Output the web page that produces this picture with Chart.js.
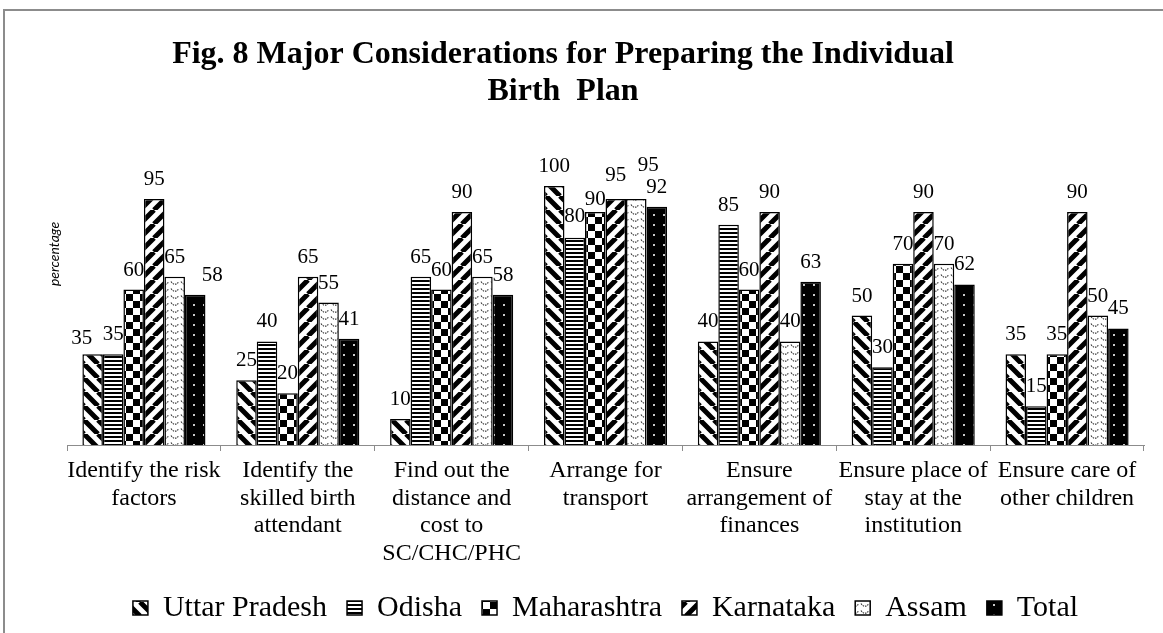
<!DOCTYPE html>
<html>
<head>
<meta charset="utf-8">
<title>Fig. 8 Major Considerations for Preparing the Individual Birth Plan</title>
<script src="https://cdn.jsdelivr.net/npm/chart.js@4.4.1/dist/chart.umd.min.js"></script>
<style>
  html, body { margin: 0; padding: 0; background: #fff; }
  #chart { display: block; }
</style>
</head>
<body>
<canvas id="chart" width="1163" height="633"></canvas>
<script>
// Categories (x axis), one multi-line label each
const categories = [
  ['Identify the risk', 'factors'],
  ['Identify the', 'skilled birth', 'attendant'],
  ['Find out the', 'distance and', 'cost to', 'SC/CHC/PHC'],
  ['Arrange for', 'transport'],
  ['Ensure', 'arrangement of', 'finances'],
  ['Ensure place of', 'stay at the', 'institution'],
  ['Ensure care of', 'other children']
];

const seriesNames = ['Uttar Pradesh', 'Odisha', 'Maharashtra', 'Karnataka', 'Assam', 'Total'];

// percentage values per state
const uttarPradesh = [35, 25, 10, 100, 40, 50, 35];
const odisha       = [35, 40, 65, 80, 85, 30, 15];
const maharashtra  = [60, 20, 60, 90, 60, 70, 35];
const karnataka    = [95, 65, 90, 95, 90, 90, 90];
const assam        = [65, 55, 65, 95, 40, 70, 50];
const total        = [58, 41, 58, 92, 63, 62, 45];

const titleLines = ['Fig. 8 Major Considerations for Preparing the Individual', 'Birth  Plan'];
const yTitle = 'percentage';

// a few value labels were moved by hand in the original ("series,category": [dx, dy])
const labelNudge = {
  '0,0': [-11, 4],
  '5,0': [17, 0],
  '1,3': [0, -2],
  '2,3': [0, 7],
  '3,3': [0, -4],
  '4,3': [12, -14]
};

const SERIF = '"Liberation Serif", "Times New Roman", serif';

// --- hatch patterns (black & white like the original) ---
function makePattern(kind) {
  const c = document.createElement('canvas');
  const g = c.getContext('2d');
  let s = 14;
  if (kind === 'horiz') s = 4;
  if (kind === 'wave') s = 10;
  if (kind === 'dots') s = 10;
  c.width = s;
  c.height = kind === 'wave' ? 7 : s;
  g.fillStyle = '#fff';
  g.fillRect(0, 0, c.width, c.height);
  g.strokeStyle = '#000';
  g.fillStyle = '#000';

  if (kind === 'down' || kind === 'up') {
    g.lineWidth = 5;
    g.beginPath();
    for (let k = -1; k <= 1; k++) {
      if (kind === 'down') { g.moveTo(k * s, 0); g.lineTo(k * s + s, s); }
      else { g.moveTo(k * s, s); g.lineTo(k * s + s, 0); }
    }
    g.stroke();
  } else if (kind === 'horiz') {
    g.fillRect(0, 0, s, 2);
  } else if (kind === 'check') {
    g.fillRect(0, 0, 7, 7);
    g.fillRect(7, 7, 7, 7);
  } else if (kind === 'wave') {
    g.strokeStyle = '#333';
    g.lineWidth = 1.2;
    g.setLineDash([1.5, 1]);
    g.beginPath();
    g.moveTo(1, 1.5);
    g.quadraticCurveTo(5, 7, 9, 1.5);
    g.stroke();
  } else if (kind === 'dots') {
    g.fillRect(0, 0, s, s);
    g.fillStyle = '#c8c8c8';
    g.fillRect(3, 4, 2, 2);
  }
  return g.createPattern(c, 'repeat');
}

const fills = [
  makePattern('down'),
  makePattern('horiz'),
  makePattern('check'),
  makePattern('up'),
  makePattern('wave'),
  makePattern('dots')
];

const values = [uttarPradesh, odisha, maharashtra, karnataka, assam, total];

const datasets = seriesNames.map((name, i) => ({
  label: name,
  data: values[i],
  backgroundColor: fills[i],
  borderColor: '#000',
  borderWidth: 1.5,
  categoryPercentage: 0.8,
  barPercentage: 1.0
}));

// frame, title, y-title and value labels
const decor = {
  id: 'decor',
  beforeDraw(chart) {
    const ctx = chart.ctx;
    ctx.save();
    ctx.fillStyle = '#fff';
    ctx.fillRect(0, 0, chart.width, chart.height);
    ctx.strokeStyle = '#8c8c8c';
    ctx.lineWidth = 2;
    ctx.beginPath();
    ctx.moveTo(4, chart.height);
    ctx.lineTo(4, 10);
    ctx.lineTo(chart.width, 10);
    ctx.stroke();
    ctx.restore();
  },
  afterDatasetsDraw(chart) {
    const ctx = chart.ctx;
    ctx.save();
    ctx.fillStyle = '#000';
    ctx.textAlign = 'center';
    ctx.textBaseline = 'alphabetic';
    ctx.font = '21px ' + SERIF;
    chart.data.datasets.forEach((ds, i) => {
      const meta = chart.getDatasetMeta(i);
      meta.data.forEach((bar, j) => {
        const n = labelNudge[i + ',' + j] || [0, 0];
        ctx.fillText(String(ds.data[j]), bar.x + n[0], bar.y - 14 + n[1]);
      });
    });

    // title
    ctx.font = 'bold 32px ' + SERIF;
    ctx.fillText(titleLines[0], 563, 63);
    ctx.fillText(titleLines[1], 563, 100);

    // y axis title
    ctx.translate(54, 254);
    ctx.rotate(-Math.PI / 2);
    ctx.font = 'italic 14px Lato, "Open Sans", sans-serif';
    ctx.textBaseline = 'middle';
    ctx.fillText(yTitle, 0, 0);
    ctx.restore();
  }
};

new Chart(document.getElementById('chart'), {
  type: 'bar',
  data: { labels: categories, datasets: datasets },
  options: {
    responsive: false,
    animation: false,
    devicePixelRatio: 1,
    layout: { padding: { left: 67, right: 19, top: 186, bottom: 0 } },
    plugins: {
      title: { display: false },
      tooltip: { enabled: false },
      legend: {
        position: 'bottom',
        labels: {
          color: '#000',
          boxWidth: 15,
          boxHeight: 14,
          padding: 20,
          font: { family: SERIF, size: 30 }
        }
      }
    },
    scales: {
      x: {
        afterFit(scale) { scale.height = 128; },
        border: { display: true, color: '#8c8c8c', width: 1 },
        grid: { display: true, drawOnChartArea: false, drawTicks: true, tickLength: 6, color: '#8c8c8c', offset: true },
        ticks: {
          color: '#000',
          autoSkip: false,
          maxRotation: 0,
          minRotation: 0,
          padding: 6,
          font: { family: SERIF, size: 24, lineHeight: 1.15 }
        }
      },
      y: { display: false, min: 0, max: 100, beginAtZero: true }
    }
  },
  plugins: [decor]
});
</script>
</body>
</html>
